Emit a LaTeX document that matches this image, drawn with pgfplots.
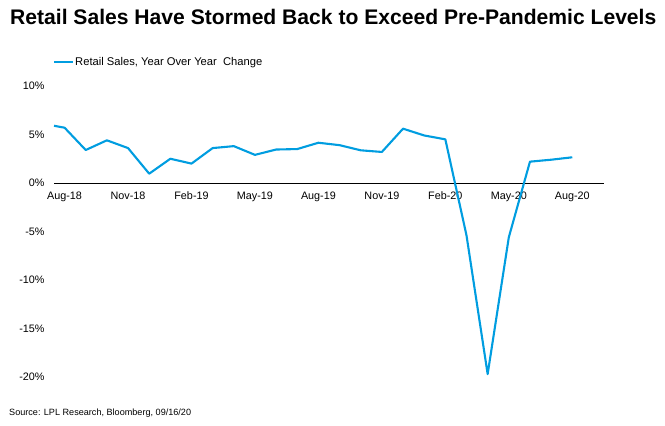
\documentclass[border=0pt]{standalone}
\usepackage{pgfplots}
\pgfplotsset{compat=1.18}
\usepackage{fontspec}
\setmainfont{Liberation Sans}
\definecolor{lplblue}{RGB}{0,157,224}
\begin{document}
\begin{tikzpicture}
\useasboundingbox (0,0) rectangle (665bp,426bp);
\begin{axis}[
  at={(54bp,49bp)}, anchor=south west,
  scale only axis, width=550bp, height=291bp,
  xmin=-0.5, xmax=25.5, ymin=-20, ymax=10,
  clip=false,
  axis x line=middle, axis y line*=left,
  x axis line style={-, black, line width=0.8pt},
  y axis line style={draw=none},
  major tick length=0pt,
  xtick={0,3,...,24},
  xticklabels={Aug-18,Nov-18,Feb-19,May-19,Aug-19,Nov-19,Feb-20,May-20,Aug-20},
  ytick={-20,-15,...,10},
  yticklabels={-20\%,-15\%,-10\%,-5\%,0\%,5\%,10\%},
  tick label style={font=\fontsize{10.8bp}{12bp}\selectfont},
  xticklabel style={anchor=north, text height=8bp, text depth=2.5bp, yshift=-5bp},
  yticklabel style={xshift=-6bp},
  legend style={at={(-0.002,1.0825)}, anchor=west, draw=none, fill=none, inner sep=0pt,
    font=\fontsize{11.2bp}{13bp}\selectfont,
    nodes={inner sep=1pt}},
  legend image code/.code={\draw[#1] (0bp,0bp) -- (19bp,0bp);},
  legend cell align=left,
]
\addplot[lplblue, line width=2.1bp, line join=round] coordinates {
(-0.5,5.9) (0,5.7) (1,3.4) (2,4.4) (3,3.6) (4,0.96) (5,2.5) (6,2.0)
(7,3.6) (8,3.8) (9,2.9) (10,3.45) (11,3.5) (12,4.15) (13,3.9) (14,3.37)
(15,3.2) (16,5.6) (17,4.9) (18,4.5) (19,-5.4) (20,-19.7) (21,-5.6)
(22,2.2) (23,2.4) (24,2.65)
};
\addlegendentry{Retail Sales, Year Over Year\ \ Change}
\end{axis}
\node[anchor=west, inner sep=0pt, font=\bfseries\fontsize{21.1bp}{24bp}\selectfont] at (10bp,409bp) {Retail Sales Have Stormed Back to Exceed Pre-Pandemic Levels};
\node[anchor=west, inner sep=0pt, font=\fontsize{9.1bp}{11bp}\selectfont] at (9bp,13bp) {Source: LPL Research, Bloomberg, 09/16/20};
\end{tikzpicture}
\end{document}
